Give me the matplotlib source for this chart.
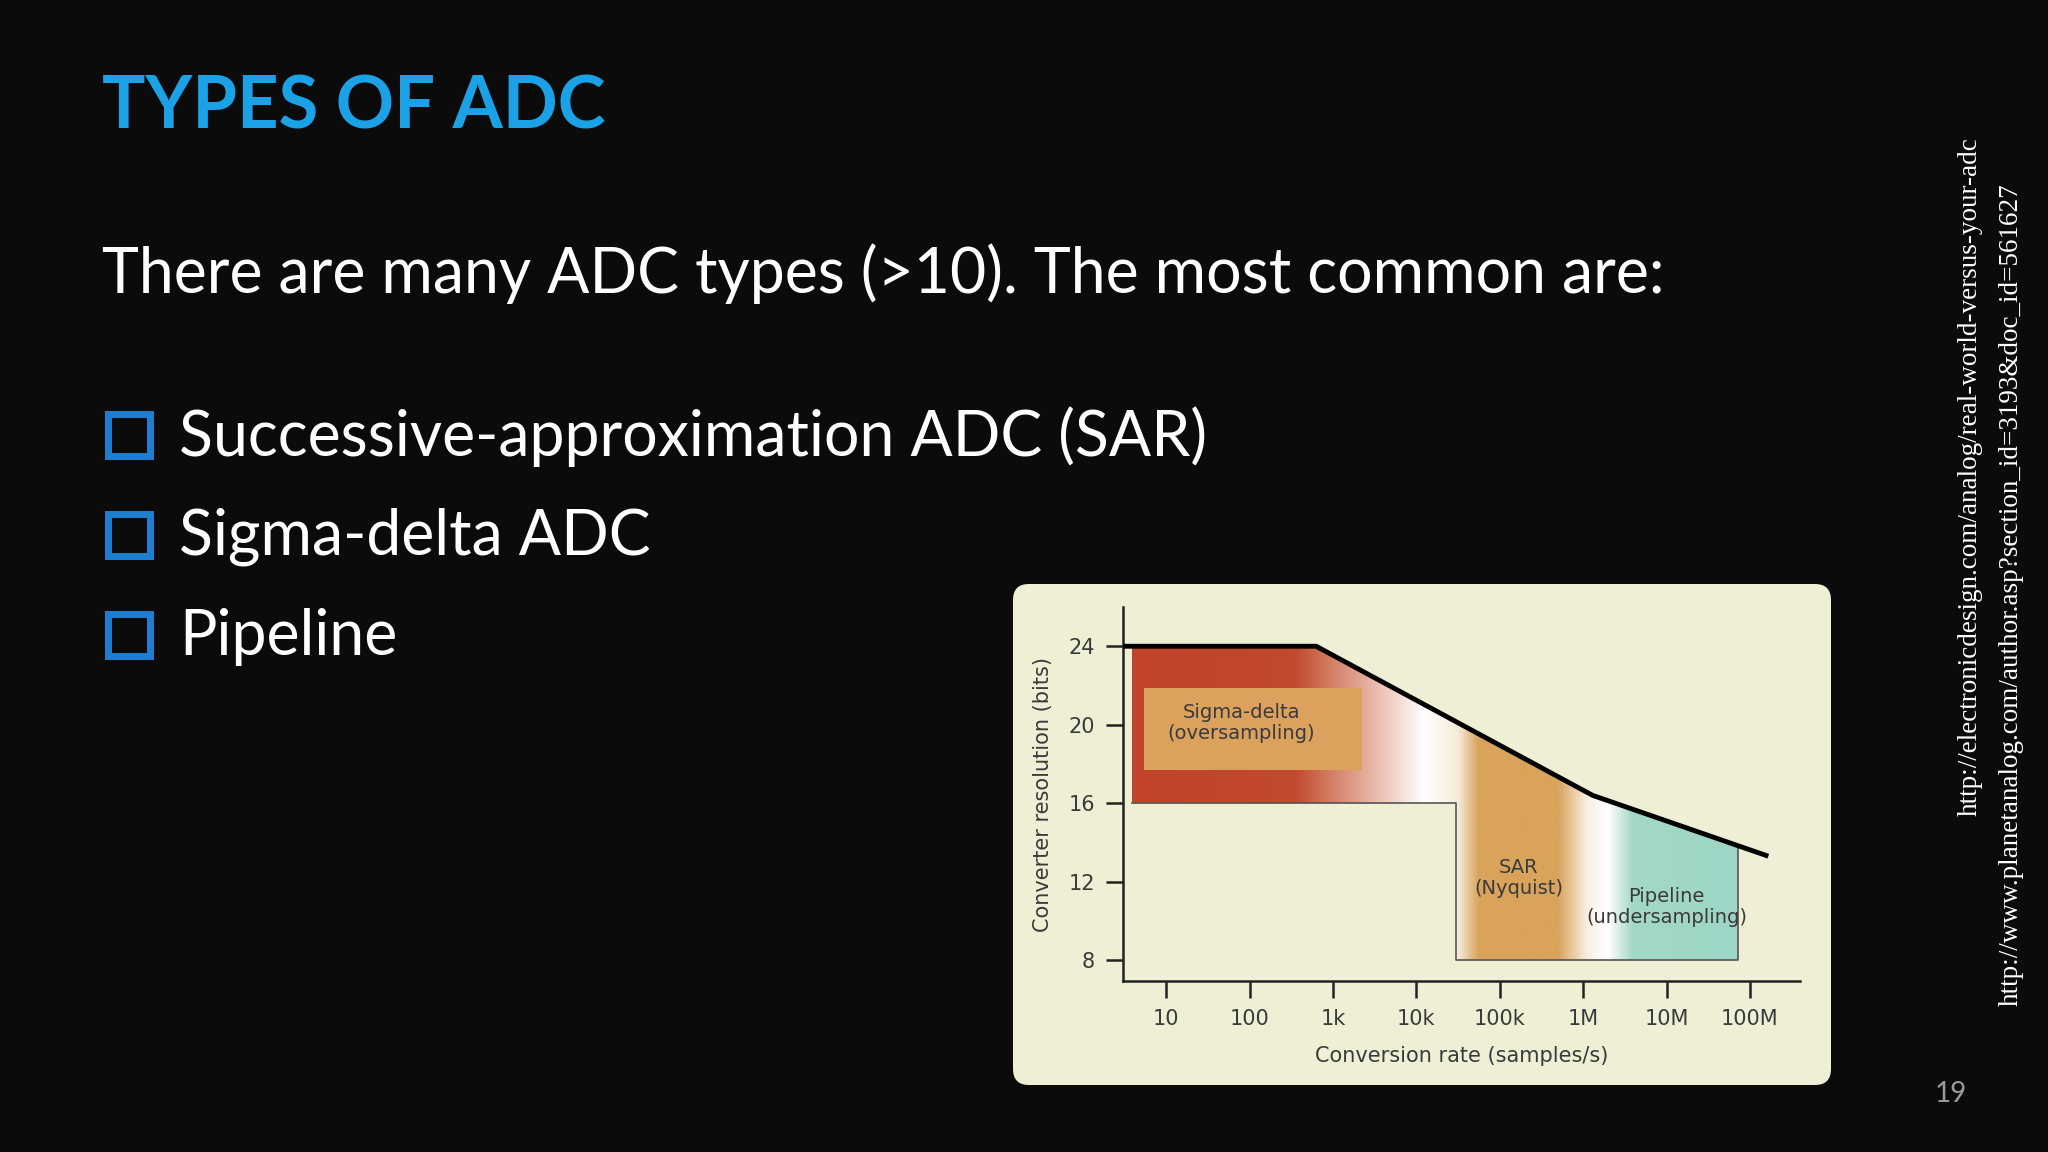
import numpy as np
import matplotlib
matplotlib.use("Agg")
import matplotlib.pyplot as plt
from matplotlib.patches import Rectangle, FancyBboxPatch, Polygon
from matplotlib.colors import to_rgb

title = "TYPES OF ADC"
intro = "There are many ADC types (>10). The most common are:"
bullets = ["Successive-approximation ADC (SAR)", "Sigma-delta ADC", "Pipeline"]
refs = ["http://electronicdesign.com/analog/real-world-versus-your-adc",
        "http://www.planetanalog.com/author.asp?section_id=3193&doc_id=561627"]
page = "19"

# chart data (rate in samples/s, resolution in bits)
xtick_vals = [1e1, 1e2, 1e3, 1e4, 1e5, 1e6, 1e7, 1e8]
xtick_labels = ["10", "100", "1k", "10k", "100k", "1M", "10M", "100M"]
ytick_vals = [8, 12, 16, 20, 24]
limit_rate = [3.1, 630, 1.3e6, 1.66e8]
limit_bits = [24, 24, 16.4, 13.3]
region_rate = [3.9, 3.9, 630, 1.3e6, 7.2e7, 7.2e7, 3.0e4, 3.0e4]
region_bits = [16, 24, 24, 16.4, 13.83, 8, 8, 16]
grad_pos = [0.59, 2.55, 3.1, 3.6, 4.1, 4.5, 4.75, 5.7, 6.05, 6.3, 6.6, 7.9]
grad_col = ["#C0432A", "#C24A2E", "#D98C74", "#EDC5B8", "#FFFFFF", "#F6EBDA",
            "#D9A35B", "#D9A35B", "#F8EFE2", "#FFFFFF", "#A2D8C8", "#9DD6C6"]

W, H = 2048, 1152
fig = plt.figure(figsize=(W/100, H/100), dpi=100, facecolor="#0B0B0B")
bg = fig.add_axes([0, 0, 1, 1])
bg.set_xlim(0, W); bg.set_ylim(H, 0); bg.axis("off")

bg.text(102, 108, title, color="#1BA1E6", fontsize=52, fontweight="bold",
        family="Lato", va="center", ha="left")
bg.text(102, 274, intro, color="white", fontsize=45, family="Lato", va="center")
for i, b in enumerate(bullets):
    y = 437 + i*100
    bg.add_patch(Rectangle((112, y-19), 42, 42, fc="#0E4E8C", ec="none"))
    bg.add_patch(Rectangle((108, y-23), 42, 42, fc="#0B0B0B", ec="#1E7FD0", lw=5))
    bg.text(179, y, b, color="white", fontsize=45, family="Lato", va="center")

bg.text(1970, 816, refs[0], rotation=90, rotation_mode="anchor", ha="left", va="center",
        color="white", fontsize=19.5, family="Liberation Serif")
bg.text(2011, 1006, refs[1], rotation=90, rotation_mode="anchor", ha="left", va="center",
        color="white", fontsize=19.5, family="Liberation Serif")
bg.text(1951, 1094, page, color="#9A9A9A", fontsize=20, family="Lato", ha="center", va="center")

bg.add_patch(FancyBboxPatch((1013+16, 584+16), 818-32, 501-32,
             boxstyle="round,pad=16", fc="#EFEFD6", ec="none"))

x0, x1, y0, y1 = 1123, 1800, 607, 981
ax = fig.add_axes([x0/W, 1-y1/H, (x1-x0)/W, (y1-y0)/H])
ax.patch.set_alpha(0)
ax.set_xlim(0.483, 8.60); ax.set_ylim(6.94, 26.0)

lr = np.log10(region_rate)
poly = Polygon(np.column_stack([lr, region_bits]), closed=True, fc="none", ec="none")
ax.add_patch(poly)
xs = np.linspace(0.483, 8.60, 800)
cols = np.array([to_rgb(c) for c in grad_col])
img = np.stack([np.interp(xs, grad_pos, cols[:, k]) for k in range(3)], axis=-1)[None, :, :]
im = ax.imshow(img, extent=[0.483, 8.60, 6.94, 26.0], aspect="auto", origin="lower", zorder=1)
im.set_clip_path(poly)

ax.add_patch(Rectangle((0.73, 17.67), 2.62, 4.2, fc="#DDA15E", ec="none", zorder=2))
ax.plot([lr[0], lr[6], lr[6], lr[4], lr[4]], [16, 16, 8, 8, 13.83], color="#555555", lw=1.2, zorder=3)
ax.plot(np.log10(limit_rate), limit_bits, color="black", lw=3.5, zorder=4, solid_capstyle="butt")

tc = "#3A3A3A"
ax.text(1.9, 20.1, "Sigma-delta\n(oversampling)", ha="center", va="center", fontsize=14, color=tc, linespacing=1.15)
ax.text(5.23, 12.2, "SAR\n(Nyquist)", ha="center", va="center", fontsize=14, color=tc, linespacing=1.15)
ax.text(7.0, 10.7, "Pipeline\n(undersampling)", ha="center", va="center", fontsize=14, color=tc, linespacing=1.15)

for s in ["top", "right"]:
    ax.spines[s].set_visible(False)
for s in ["left", "bottom"]:
    ax.spines[s].set_color("#222222"); ax.spines[s].set_linewidth(1.8)
ax.set_xticks(np.log10(xtick_vals)); ax.set_xticklabels(xtick_labels)
ax.set_yticks(ytick_vals)
ax.tick_params(direction="out", length=12, width=1.8, color="#222222", labelsize=15, labelcolor=tc, pad=8)
ax.set_xlabel("Conversion rate (samples/s)", fontsize=15, color=tc)
ax.set_ylabel("Converter resolution (bits)", fontsize=15, color=tc)
ax.xaxis.set_label_coords(0.5, -0.174)
ax.yaxis.set_label_coords(-0.103, 0.5)

fig.savefig("out.png", dpi=100, facecolor=fig.get_facecolor())
